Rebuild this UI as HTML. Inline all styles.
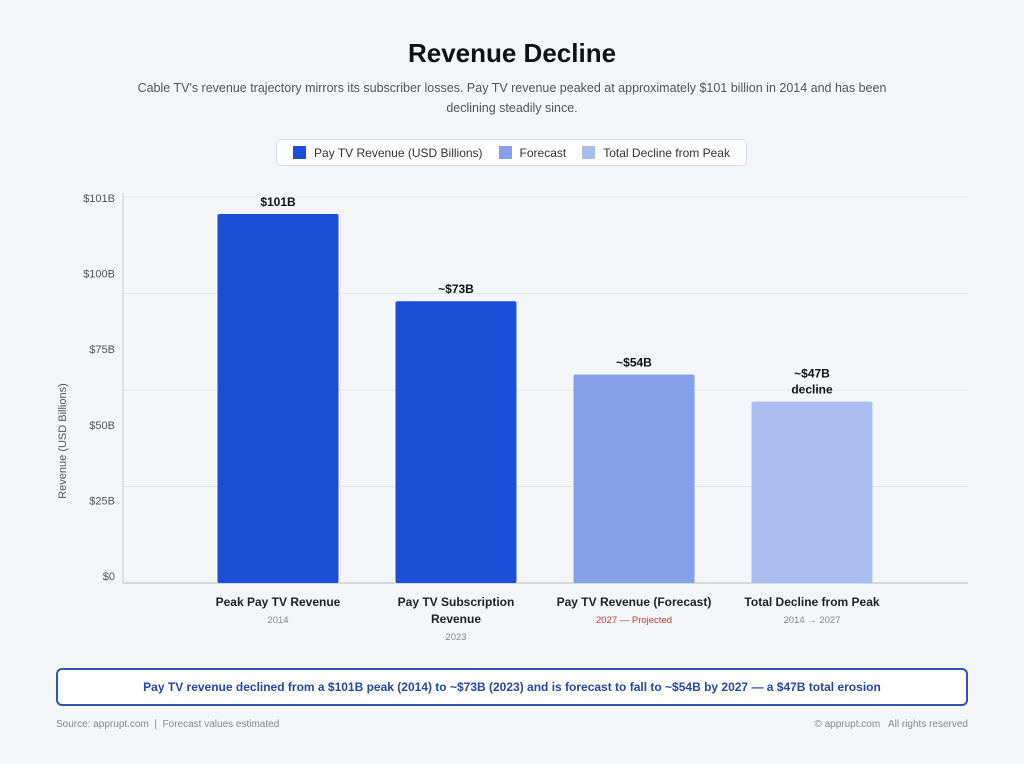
<!DOCTYPE html>
<html><head><meta charset="utf-8"><style>
body{margin:0;width:1024px;height:764px;background:#f5f6fa;font-family:"Liberation Sans",sans-serif;position:relative;overflow:hidden}
.abs{position:absolute}
</style></head><body>
<div class="abs" style="left:0;width:1024px;top:38px;text-align:center;font-size:26px;font-weight:bold;color:#111">Revenue Decline</div>
<div class="abs" style="left:120px;width:784px;top:78px;text-align:center;font-size:12.5px;line-height:20px;color:#555">Cable TV's revenue trajectory mirrors its subscriber losses. Pay TV revenue peaked at approximately $101 billion in 2014 and has been declining steadily since.</div>
<div class="abs" style="left:276px;top:139px;width:471px;height:27px;background:#fff;border:1px solid #d8dce4;border-radius:5px;font-size:12px;color:#333;display:flex;align-items:center;justify-content:center;gap:16px;box-sizing:border-box">
<span style="display:flex;align-items:center"><span style="width:13px;height:13px;background:#1d4ed8;margin-right:8px;display:inline-block"></span>Pay TV Revenue (USD Billions)</span>
<span style="display:flex;align-items:center"><span style="width:13px;height:13px;background:#87a0ea;margin-right:8px;display:inline-block"></span>Forecast</span>
<span style="display:flex;align-items:center"><span style="width:13px;height:13px;background:#a9bdf0;margin-right:8px;display:inline-block"></span>Total Decline from Peak</span>
</div>
<svg class="abs" id="chart" style="left:0;top:0" width="1024" height="660" font-family="Liberation Sans, sans-serif"></svg>
<div class="abs" style="left:56px;top:668px;width:912px;height:38px;box-sizing:border-box;border:2px solid #2f55b0;border-radius:6px;background:#fff;text-align:center;line-height:34px;font-size:12px;font-weight:bold;color:#2447a8">Pay TV revenue declined from a $101B peak (2014) to ~$73B (2023) and is forecast to fall to ~$54B by 2027 — a $47B total erosion</div>
<div class="abs" style="left:56px;top:719px;font-size:10px;color:#888">Source: apprupt.com &nbsp;|&nbsp; Forecast values estimated</div>
<div class="abs" style="right:56px;top:719px;font-size:10px;color:#888">© apprupt.com &nbsp; All rights reserved</div>
<script>
const categories=["Peak Pay TV Revenue","Pay TV Subscription Revenue","Pay TV Revenue (Forecast)","Total Decline from Peak"];
const values=[95.6,73,54,47];
const valueLabels=["$101B","~$73B","~$54B","~$47B decline"];
const subLabels=["2014","2023","2027 — Projected","2014 → 2027"];
const barColors=["#1d4ed8","#1d4ed8","#87a0ea","#a9bdf0"];
const tickLabels=["$0","$25B","$50B","$75B","$100B","$101B"];
const gridValues=[0,25,50,75,100];
const NS="http://www.w3.org/2000/svg";
const svg=document.getElementById('chart');
const L=123,R=968,T=197,B=583,yMax=100;
const y=v=>B-(v/yMax)*(B-T);
const cx=i=>278+i*178;
function mk(t,a,txt){const e=document.createElementNS(NS,t);for(const k in a)e.setAttribute(k,a[k]);if(txt!=null)e.textContent=txt;svg.appendChild(e);return e;}
gridValues.forEach(g=>{const l=mk('line',{x1:L,x2:R,y1:y(g),y2:y(g),stroke:g==0?'#bbb':'#e2e5ea','stroke-width':1});

});
const ax=mk('line',{x1:L,x2:L,y1:T-4,y2:B,stroke:'#ccc'});


tickLabels.forEach((t,i)=>{const e=mk('text',{x:115,y:580-i*75.6,'text-anchor':'end','font-size':11,fill:'#555'},t);

});
const yt=mk('text',{transform:'translate(66,441) rotate(-90)','text-anchor':'middle','font-size':11,fill:'#555'},'Revenue (USD Billions)');


values.forEach((v,i)=>{
 const w=121,x=cx(i)-w/2;
 const r=mk('rect',{x:x,y:y(v),width:w,height:B-y(v),fill:barColors[i],rx:2});
 
 
 const parts=valueLabels[i].split(' ');
 parts.forEach((p,j)=>{const t=mk('text',{x:cx(i),y:y(v)-8-(parts.length-1-j)*16,'text-anchor':'middle','font-size':12,'font-weight':'bold',fill:'#111'},p);
 
 });
 const words=categories[i]=="Pay TV Subscription Revenue"?["Pay TV Subscription","Revenue"]:[categories[i]];
 words.forEach((wd,j)=>{const t=mk('text',{x:cx(i),y:606+j*17,'text-anchor':'middle','font-size':12,'font-weight':'bold',fill:'#222'},wd);
 
 });
 const s=mk('text',{x:cx(i),y:623+(words.length-1)*17,'text-anchor':'middle','font-size':9.5,fill:i==2?'#c0392b':'#888'},subLabels[i]);
 
 
});
</script>
</body></html>
